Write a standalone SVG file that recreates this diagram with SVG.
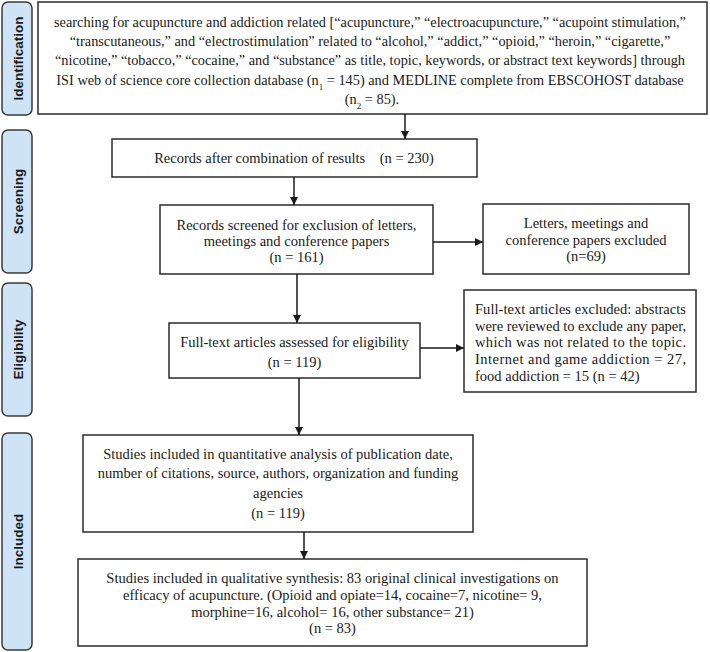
<svg xmlns="http://www.w3.org/2000/svg" width="710" height="652" viewBox="0 0 710 652">
<defs>
<style>
.box{fill:#fff;stroke:#2b2b2b;stroke-width:1.5}
.side{fill:#cfe3f6;stroke:#3a3a3a;stroke-width:1.5}
.t{font-family:"Liberation Serif","Times New Roman",serif;font-size:14.5px;fill:#1a1a1a}
.s{font-size:14.3px}
.c{text-anchor:middle}
.lab{font-family:"Liberation Sans",Arial,sans-serif;font-weight:bold;font-size:13.5px;fill:#1a1a1a;text-anchor:middle}
.ln{stroke:#1a1a1a;stroke-width:1.5;fill:none}
</style>
<marker id="ah" viewBox="0 0 10 10" refX="10" refY="5" markerWidth="8" markerHeight="8" markerUnits="userSpaceOnUse" orient="auto">
<path d="M0,0 L10,5 L0,10 z" fill="#1a1a1a"/>
</marker>
</defs>
<rect width="710" height="652" fill="#fff"/>

<g id="stage-identification">
<rect class="side" x="2" y="2" width="30" height="113" rx="6"/>
<text class="lab" transform="translate(22.5,58.5) rotate(-90)">Identification</text>
</g>
<g id="stage-screening">
<rect class="side" x="2" y="130" width="30" height="143" rx="6"/>
<text class="lab" transform="translate(22.5,201.5) rotate(-90)">Screening</text>
</g>
<g id="stage-eligibility">
<rect class="side" x="2" y="283" width="30" height="133" rx="6"/>
<text class="lab" transform="translate(22.5,349.5) rotate(-90)">Eligibility</text>
</g>
<g id="stage-included">
<rect class="side" x="2" y="433" width="30" height="217" rx="6"/>
<text class="lab" transform="translate(22.5,541.5) rotate(-90)">Included</text>
</g>

<g id="node-search">
<rect class="box" x="38" y="2" width="669" height="112"/>
<text class="t s c" x="370" y="27">searching for acupuncture and addiction related [“acupuncture,” “electroacupuncture,” “acupoint stimulation,”</text>
<text class="t s c" x="370" y="46.2">“transcutaneous,” and “electrostimulation” related to “alcohol,” “addict,” “opioid,” “heroin,” “cigarette,”</text>
<text class="t s c" x="370" y="65.4">“nicotine,” “tobacco,” “cocaine,” and “substance” as title, topic, keywords, or abstract text keywords] through</text>
<text class="t s c" x="370" y="84.6">ISI web of science core collection database (n<tspan baseline-shift="sub" font-size="9">1</tspan> = 145) and MEDLINE complete from EBSCOHOST database</text>
<text class="t s c" x="372" y="103.8">(n<tspan baseline-shift="sub" font-size="9">2</tspan> = 85).</text>
</g>

<g id="node-records">
<rect class="box" x="112" y="139" width="365" height="38"/>
<text class="t c" x="294" y="163" style="white-space:pre">Records after combination of results    (n = 230)</text>
</g>

<g id="node-screened">
<rect class="box" x="160" y="205" width="273" height="69"/>
<text class="t c" x="296.5" y="230">Records screened for exclusion of letters,</text>
<text class="t c" x="296.5" y="246">meetings and conference papers</text>
<text class="t c" x="296.5" y="262">(n = 161)</text>
</g>

<g id="node-letters">
<rect class="box" x="483" y="204" width="206" height="70"/>
<text class="t c" x="586" y="228">Letters, meetings and</text>
<text class="t c" x="586" y="245">conference papers excluded</text>
<text class="t c" x="586" y="261">(n=69)</text>
</g>

<g id="node-assessed">
<rect class="box" x="169" y="323" width="251" height="55"/>
<text class="t c" x="294.5" y="347">Full-text articles assessed for eligibility</text>
<text class="t c" x="294.5" y="367">(n = 119)</text>
</g>

<g id="node-fulltext-excluded">
<rect class="box" x="464" y="290" width="232" height="102"/>
<text class="t" x="475" y="314" textLength="211" lengthAdjust="spacing">Full-text articles excluded: abstracts</text>
<text class="t" x="475" y="331" textLength="211" lengthAdjust="spacing">were reviewed to exclude any paper,</text>
<text class="t" x="475" y="347" textLength="211" lengthAdjust="spacing">which was not related to the topic.</text>
<text class="t" x="475" y="364" textLength="211" lengthAdjust="spacing">Internet and game addiction = 27,</text>
<text class="t" x="475" y="381">food addiction = 15 (n = 42)</text>
</g>

<g id="node-quantitative">
<rect class="box" x="83" y="435" width="390" height="97"/>
<text class="t c" x="278" y="459">Studies included in quantitative analysis of publication date,</text>
<text class="t c" x="278" y="478">number of citations, source, authors, organization and funding</text>
<text class="t c" x="278" y="498">agencies</text>
<text class="t c" x="278" y="518">(n = 119)</text>
</g>

<g id="node-qualitative">
<rect class="box" x="78" y="559" width="509" height="87"/>
<text class="t c" x="332.5" y="583">Studies included in qualitative synthesis: 83 original clinical investigations on</text>
<text class="t c" x="332.5" y="600">efficacy of acupuncture. (Opioid and opiate=14, cocaine=7, nicotine= 9,</text>
<text class="t c" x="332.5" y="617">morphine=16, alcohol= 16, other substance= 21)</text>
<text class="t c" x="332.5" y="633">(n = 83)</text>
</g>

<g id="connectors">
<line class="ln" x1="405" y1="114" x2="405" y2="139" marker-end="url(#ah)"/>
<line class="ln" x1="294" y1="177" x2="294" y2="205" marker-end="url(#ah)"/>
<line class="ln" x1="433" y1="242" x2="483" y2="242" marker-end="url(#ah)"/>
<line class="ln" x1="297" y1="274" x2="297" y2="323" marker-end="url(#ah)"/>
<line class="ln" x1="420" y1="348" x2="464" y2="348" marker-end="url(#ah)"/>
<line class="ln" x1="299" y1="378" x2="299" y2="435" marker-end="url(#ah)"/>
<line class="ln" x1="304" y1="532" x2="304" y2="559" marker-end="url(#ah)"/>
</g>
</svg>
